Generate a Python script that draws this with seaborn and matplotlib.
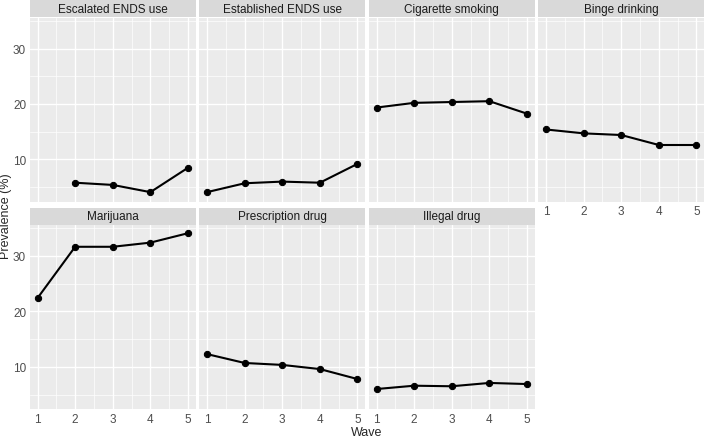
import numpy as np
import pandas as pd
import matplotlib
matplotlib.use("Agg")
import matplotlib.pyplot as plt
from matplotlib.patches import Rectangle
from matplotlib.ticker import MultipleLocator, FixedLocator
import seaborn as sns

# Datos (prevalencia en %, por ola)
waves = [1, 2, 3, 4, 5]
panel_names = ["Escalated ENDS use", "Established ENDS use", "Cigarette smoking",
               "Binge drinking", "Marijuana", "Prescription drug", "Illegal drug"]
escalated_ends = [np.nan, 5.8, 5.4, 4.1, 8.5]
established_ends = [4.1, 5.7, 6.0, 5.8, 9.2]
cigarette = [19.35, 20.2, 20.35, 20.5, 18.25]
binge = [15.4, 14.7, 14.4, 12.6, 12.6]
marijuana = [22.4, 31.65, 31.65, 32.4, 34.1]
prescription = [12.3, 10.7, 10.35, 9.6, 7.8]
illegal = [6.0, 6.6, 6.5, 7.1, 6.9]

series = [escalated_ends, established_ends, cigarette, binge,
          marijuana, prescription, illegal]

df = pd.concat([
    pd.DataFrame({"wave": waves, "prevalence": vals, "outcome": name})
    for name, vals in zip(panel_names, series)
], ignore_index=True)

# Estilo tipo ggplot2
sns.set_theme(style="darkgrid", rc={
    "axes.facecolor": "#EBEBEB",
    "grid.color": "white",
    "axes.edgecolor": "#EBEBEB",
})
plt.rcParams["font.family"] = ["Liberation Sans", "DejaVu Sans"]

g = sns.FacetGrid(df, col="outcome", col_order=panel_names, col_wrap=4,
                  sharex=True, sharey=True, height=2, aspect=1)
g.map_dataframe(sns.lineplot, x="wave", y="prevalence", color="black",
                linewidth=1.5, marker="o", markersize=4.5,
                markeredgecolor="black", estimator=None)

fig = g.figure
fig.set_size_inches(7.09, 4.39)
fig.subplots_adjust(left=30 / 709, right=704 / 709, top=1 - 19 / 439,
                    bottom=1 - 410 / 439, wspace=0.024, hspace=0.13)

ymin, ymax = 2.4, 35.5
for ax, name in zip(g.axes.flat, panel_names):
    ax.set_xlim(0.8, 5.2)
    ax.set_ylim(ymin, ymax)
    ax.xaxis.set_major_locator(FixedLocator(waves))
    ax.yaxis.set_major_locator(FixedLocator([10, 20, 30]))
    ax.xaxis.set_minor_locator(MultipleLocator(0.5))
    ax.yaxis.set_minor_locator(FixedLocator([5, 15, 25, 35]))
    ax.grid(which="major", color="white", linewidth=1.0)
    ax.grid(which="minor", color="white", linewidth=0.5)
    ax.tick_params(which="minor", length=0)
    ax.tick_params(which="major", length=2, width=0.6, color="#333333",
                   labelsize=8.5, labelcolor="#4D4D4D", pad=0.8)
    for s in ax.spines.values():
        s.set_visible(False)
    ax.set_title("")
    ax.set_xlabel("")
    ax.set_ylabel("")
    # franja del titulo del panel
    strip_h = 17 / 185
    ax.add_patch(Rectangle((0, 1.004), 1, strip_h, transform=ax.transAxes,
                           facecolor="#D9D9D9", edgecolor="none", clip_on=False))
    ax.text(0.5, 1.004 + strip_h / 2, name, transform=ax.transAxes,
            ha="center", va="center", fontsize=8.5, color="#1A1A1A")

fig.text(367 / 709, 0.0, "Wave", ha="center", va="bottom", fontsize=9)
fig.text(0.0, 1 - 216 / 439, "Prevalence (%)", ha="left", va="center",
         rotation=90, fontsize=9)

fig.savefig("out.png", dpi=100)
